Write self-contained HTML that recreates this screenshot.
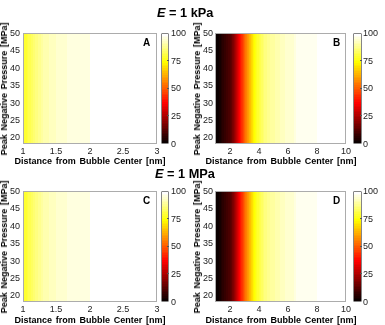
<!DOCTYPE html>
<html><head><meta charset="utf-8"><style>
*{margin:0;padding:0;box-sizing:border-box}
html,body{width:385px;height:325px;overflow:hidden;background:#fff}
body{position:relative;font-family:"Liberation Sans", sans-serif;color:#000}
.box{position:absolute;border:1px solid #acacac}
.cb{position:absolute;border:1px solid #858585;border-radius:1px;background:linear-gradient(to top,rgb(11, 0, 0) 0.000%,rgb(11, 0, 0) 1.562%,rgb(21, 0, 0) 1.562%,rgb(21, 0, 0) 3.125%,rgb(32, 0, 0) 3.125%,rgb(32, 0, 0) 4.688%,rgb(42, 0, 0) 4.688%,rgb(42, 0, 0) 6.250%,rgb(53, 0, 0) 6.250%,rgb(53, 0, 0) 7.812%,rgb(64, 0, 0) 7.812%,rgb(64, 0, 0) 9.375%,rgb(74, 0, 0) 9.375%,rgb(74, 0, 0) 10.938%,rgb(85, 0, 0) 10.938%,rgb(85, 0, 0) 12.500%,rgb(96, 0, 0) 12.500%,rgb(96, 0, 0) 14.062%,rgb(106, 0, 0) 14.062%,rgb(106, 0, 0) 15.625%,rgb(117, 0, 0) 15.625%,rgb(117, 0, 0) 17.188%,rgb(128, 0, 0) 17.188%,rgb(128, 0, 0) 18.750%,rgb(138, 0, 0) 18.750%,rgb(138, 0, 0) 20.312%,rgb(149, 0, 0) 20.312%,rgb(149, 0, 0) 21.875%,rgb(159, 0, 0) 21.875%,rgb(159, 0, 0) 23.438%,rgb(170, 0, 0) 23.438%,rgb(170, 0, 0) 25.000%,rgb(181, 0, 0) 25.000%,rgb(181, 0, 0) 26.562%,rgb(191, 0, 0) 26.562%,rgb(191, 0, 0) 28.125%,rgb(202, 0, 0) 28.125%,rgb(202, 0, 0) 29.688%,rgb(212, 0, 0) 29.688%,rgb(212, 0, 0) 31.250%,rgb(223, 0, 0) 31.250%,rgb(223, 0, 0) 32.812%,rgb(234, 0, 0) 32.812%,rgb(234, 0, 0) 34.375%,rgb(244, 0, 0) 34.375%,rgb(244, 0, 0) 35.938%,rgb(255, 0, 0) 35.938%,rgb(255, 0, 0) 37.500%,rgb(255, 11, 0) 37.500%,rgb(255, 11, 0) 39.062%,rgb(255, 21, 0) 39.062%,rgb(255, 21, 0) 40.625%,rgb(255, 32, 0) 40.625%,rgb(255, 32, 0) 42.188%,rgb(255, 42, 0) 42.188%,rgb(255, 42, 0) 43.750%,rgb(255, 53, 0) 43.750%,rgb(255, 53, 0) 45.312%,rgb(255, 64, 0) 45.312%,rgb(255, 64, 0) 46.875%,rgb(255, 74, 0) 46.875%,rgb(255, 74, 0) 48.438%,rgb(255, 85, 0) 48.438%,rgb(255, 85, 0) 50.000%,rgb(255, 96, 0) 50.000%,rgb(255, 96, 0) 51.562%,rgb(255, 106, 0) 51.562%,rgb(255, 106, 0) 53.125%,rgb(255, 117, 0) 53.125%,rgb(255, 117, 0) 54.688%,rgb(255, 128, 0) 54.688%,rgb(255, 128, 0) 56.250%,rgb(255, 138, 0) 56.250%,rgb(255, 138, 0) 57.812%,rgb(255, 149, 0) 57.812%,rgb(255, 149, 0) 59.375%,rgb(255, 159, 0) 59.375%,rgb(255, 159, 0) 60.938%,rgb(255, 170, 0) 60.938%,rgb(255, 170, 0) 62.500%,rgb(255, 181, 0) 62.500%,rgb(255, 181, 0) 64.062%,rgb(255, 191, 0) 64.062%,rgb(255, 191, 0) 65.625%,rgb(255, 202, 0) 65.625%,rgb(255, 202, 0) 67.188%,rgb(255, 212, 0) 67.188%,rgb(255, 212, 0) 68.750%,rgb(255, 223, 0) 68.750%,rgb(255, 223, 0) 70.312%,rgb(255, 234, 0) 70.312%,rgb(255, 234, 0) 71.875%,rgb(255, 244, 0) 71.875%,rgb(255, 244, 0) 73.438%,rgb(255, 255, 0) 73.438%,rgb(255, 255, 0) 75.000%,rgb(255, 255, 16) 75.000%,rgb(255, 255, 16) 76.562%,rgb(255, 255, 32) 76.562%,rgb(255, 255, 32) 78.125%,rgb(255, 255, 48) 78.125%,rgb(255, 255, 48) 79.688%,rgb(255, 255, 64) 79.688%,rgb(255, 255, 64) 81.250%,rgb(255, 255, 80) 81.250%,rgb(255, 255, 80) 82.812%,rgb(255, 255, 96) 82.812%,rgb(255, 255, 96) 84.375%,rgb(255, 255, 112) 84.375%,rgb(255, 255, 112) 85.938%,rgb(255, 255, 128) 85.938%,rgb(255, 255, 128) 87.500%,rgb(255, 255, 143) 87.500%,rgb(255, 255, 143) 89.062%,rgb(255, 255, 159) 89.062%,rgb(255, 255, 159) 90.625%,rgb(255, 255, 175) 90.625%,rgb(255, 255, 175) 92.188%,rgb(255, 255, 191) 92.188%,rgb(255, 255, 191) 93.750%,rgb(255, 255, 207) 93.750%,rgb(255, 255, 207) 95.312%,rgb(255, 255, 223) 95.312%,rgb(255, 255, 223) 96.875%,rgb(255, 255, 239) 96.875%,rgb(255, 255, 239) 98.438%,rgb(255, 255, 255) 98.438%,rgb(255, 255, 255) 100.000%)}
.ctk{position:absolute;width:2px;height:1px;background:#555}
.tl,.tr,.tc{position:absolute;font-size:9px;line-height:8px;color:#222;white-space:nowrap;will-change:transform}
.tl{transform:translateY(-50%);margin-top:0px}
.tr{transform:translateY(-50%)}
.tc{transform:translate(-50%,-50%)}
.let{position:absolute;font-size:10px;font-weight:bold;line-height:10px;will-change:transform}
.xl,.yl{position:absolute;width:0;height:0;font-weight:bold;font-size:9px;word-spacing:1.2px;white-space:nowrap}
.yl{word-spacing:1.2px}
.xl span,.yl span{position:absolute;left:0;top:0;display:block;line-height:8px;translate:-50% -50%;will-change:transform}
.yl{transform:rotate(-90deg)}
.ttl{position:absolute;font-size:12.75px;font-weight:bold;white-space:nowrap;line-height:12.75px;will-change:transform}
.ttl i{font-style:italic}
#w{position:absolute;left:0;top:0;width:385px;height:325px;background:#fff;filter:blur(0.3px)}
</style></head>
<body><div id="w">
<div class="ttl" style="left:157px;top:7px"><i>E</i> = 1 kPa</div>
<div class="ttl" style="left:155px;top:168px"><i>E</i> = 1 MPa</div>
<div class="box" style="left:23px;top:33px;width:133.5px;height:110.5px;background:linear-gradient(to right,rgb(255, 255, 32) 0%,rgb(255, 255, 32) 0.37%,rgb(255, 255, 48) 0.37%,rgb(255, 255, 48) 2.25%,rgb(255, 255, 64) 2.25%,rgb(255, 255, 64) 3.37%,rgb(255, 255, 80) 3.37%,rgb(255, 255, 80) 5.24%,rgb(255, 255, 96) 5.24%,rgb(255, 255, 96) 6.74%,rgb(255, 255, 112) 6.74%,rgb(255, 255, 112) 8.61%,rgb(255, 255, 128) 8.61%,rgb(255, 255, 128) 10.49%,rgb(255, 255, 143) 10.49%,rgb(255, 255, 143) 12.73%,rgb(255, 255, 159) 12.73%,rgb(255, 255, 159) 14.61%,rgb(255, 255, 175) 14.61%,rgb(255, 255, 175) 18.73%,rgb(255, 255, 191) 18.73%,rgb(255, 255, 191) 23.97%,rgb(255, 255, 207) 23.97%,rgb(255, 255, 207) 32.21%,rgb(255, 255, 223) 32.21%,rgb(255, 255, 223) 49.81%,rgb(255, 255, 255) 49.81%,rgb(255, 255, 255) 100%)"></div>
<div class="cb" style="left:161px;top:33px;width:8px;height:110.5px"></div>
<div class="tl" style="left:171px;top:143.50px">0</div>
<div class="ctk" style="left:167px;top:115.38px"></div>
<div class="tl" style="left:171px;top:115.88px">25</div>
<div class="ctk" style="left:167px;top:87.75px"></div>
<div class="tl" style="left:171px;top:88.25px">50</div>
<div class="ctk" style="left:167px;top:60.12px"></div>
<div class="tl" style="left:171px;top:60.62px">75</div>
<div class="tl" style="left:171px;top:33.00px">100</div>
<div class="tr" style="right:364.5px;top:137.25px">20</div>
<div class="tr" style="right:364.5px;top:119.87px">25</div>
<div class="tr" style="right:364.5px;top:102.50px">30</div>
<div class="tr" style="right:364.5px;top:85.12px">35</div>
<div class="tr" style="right:364.5px;top:67.75px">40</div>
<div class="tr" style="right:364.5px;top:50.37px">45</div>
<div class="tr" style="right:364.5px;top:33.00px">50</div>
<div class="tc" style="left:23.00px;top:151.0px">1</div>
<div class="tc" style="left:56.38px;top:151.0px">1.5</div>
<div class="tc" style="left:89.75px;top:151.0px">2</div>
<div class="tc" style="left:123.12px;top:151.0px">2.5</div>
<div class="tc" style="left:156.50px;top:151.0px">3</div>
<div class="let" style="left:143.3px;top:38.4px">A</div>
<div class="xl" style="left:89.75px;top:161.3px"><span>Distance from Bubble Center [nm]</span></div>
<div class="yl" style="left:4.0px;top:89.25px"><span>Peak Negative Pressure [MPa]</span></div>
<div class="box" style="left:215.3px;top:33px;width:130.39999999999998px;height:110.5px;background:linear-gradient(to right,rgb(11, 0, 0) 0%,rgb(11, 0, 0) 2.68%,rgb(21, 0, 0) 2.68%,rgb(21, 0, 0) 3.83%,rgb(32, 0, 0) 3.83%,rgb(32, 0, 0) 4.98%,rgb(42, 0, 0) 4.98%,rgb(42, 0, 0) 6.51%,rgb(53, 0, 0) 6.51%,rgb(53, 0, 0) 8.05%,rgb(64, 0, 0) 8.05%,rgb(64, 0, 0) 9.20%,rgb(74, 0, 0) 9.20%,rgb(74, 0, 0) 10.73%,rgb(85, 0, 0) 10.73%,rgb(85, 0, 0) 11.49%,rgb(96, 0, 0) 11.49%,rgb(96, 0, 0) 12.26%,rgb(106, 0, 0) 12.26%,rgb(106, 0, 0) 12.64%,rgb(117, 0, 0) 12.64%,rgb(117, 0, 0) 13.41%,rgb(128, 0, 0) 13.41%,rgb(128, 0, 0) 13.79%,rgb(138, 0, 0) 13.79%,rgb(138, 0, 0) 14.18%,rgb(149, 0, 0) 14.18%,rgb(149, 0, 0) 14.56%,rgb(159, 0, 0) 14.56%,rgb(159, 0, 0) 14.94%,rgb(170, 0, 0) 14.94%,rgb(170, 0, 0) 15.33%,rgb(181, 0, 0) 15.33%,rgb(181, 0, 0) 15.71%,rgb(191, 0, 0) 15.71%,rgb(191, 0, 0) 16.09%,rgb(202, 0, 0) 16.09%,rgb(202, 0, 0) 16.48%,rgb(212, 0, 0) 16.48%,rgb(212, 0, 0) 16.86%,rgb(234, 0, 0) 16.86%,rgb(234, 0, 0) 17.62%,rgb(244, 0, 0) 17.62%,rgb(244, 0, 0) 18.01%,rgb(255, 0, 0) 18.01%,rgb(255, 0, 0) 18.39%,rgb(255, 11, 0) 18.39%,rgb(255, 11, 0) 18.77%,rgb(255, 21, 0) 18.77%,rgb(255, 21, 0) 19.16%,rgb(255, 32, 0) 19.16%,rgb(255, 32, 0) 19.54%,rgb(255, 42, 0) 19.54%,rgb(255, 42, 0) 20.31%,rgb(255, 53, 0) 20.31%,rgb(255, 53, 0) 20.69%,rgb(255, 64, 0) 20.69%,rgb(255, 64, 0) 21.07%,rgb(255, 74, 0) 21.07%,rgb(255, 74, 0) 21.46%,rgb(255, 85, 0) 21.46%,rgb(255, 85, 0) 21.84%,rgb(255, 96, 0) 21.84%,rgb(255, 96, 0) 22.22%,rgb(255, 106, 0) 22.22%,rgb(255, 106, 0) 22.61%,rgb(255, 117, 0) 22.61%,rgb(255, 117, 0) 23.37%,rgb(255, 128, 0) 23.37%,rgb(255, 128, 0) 23.75%,rgb(255, 138, 0) 23.75%,rgb(255, 138, 0) 24.14%,rgb(255, 149, 0) 24.14%,rgb(255, 149, 0) 24.52%,rgb(255, 159, 0) 24.52%,rgb(255, 159, 0) 25.29%,rgb(255, 170, 0) 25.29%,rgb(255, 170, 0) 25.67%,rgb(255, 181, 0) 25.67%,rgb(255, 181, 0) 26.05%,rgb(255, 191, 0) 26.05%,rgb(255, 191, 0) 26.82%,rgb(255, 202, 0) 26.82%,rgb(255, 202, 0) 27.20%,rgb(255, 212, 0) 27.20%,rgb(255, 212, 0) 27.59%,rgb(255, 223, 0) 27.59%,rgb(255, 223, 0) 28.35%,rgb(255, 234, 0) 28.35%,rgb(255, 234, 0) 28.74%,rgb(255, 244, 0) 28.74%,rgb(255, 244, 0) 29.12%,rgb(255, 255, 0) 29.12%,rgb(255, 255, 0) 29.89%,rgb(255, 255, 16) 29.89%,rgb(255, 255, 16) 30.65%,rgb(255, 255, 32) 30.65%,rgb(255, 255, 32) 31.80%,rgb(255, 255, 48) 31.80%,rgb(255, 255, 48) 32.95%,rgb(255, 255, 64) 32.95%,rgb(255, 255, 64) 34.10%,rgb(255, 255, 80) 34.10%,rgb(255, 255, 80) 35.25%,rgb(255, 255, 96) 35.25%,rgb(255, 255, 96) 36.40%,rgb(255, 255, 112) 36.40%,rgb(255, 255, 112) 37.55%,rgb(255, 255, 128) 37.55%,rgb(255, 255, 128) 39.46%,rgb(255, 255, 143) 39.46%,rgb(255, 255, 143) 42.15%,rgb(255, 255, 159) 42.15%,rgb(255, 255, 159) 45.98%,rgb(255, 255, 175) 45.98%,rgb(255, 255, 175) 49.81%,rgb(255, 255, 191) 49.81%,rgb(255, 255, 191) 53.64%,rgb(255, 255, 207) 53.64%,rgb(255, 255, 207) 60.54%,rgb(255, 255, 223) 60.54%,rgb(255, 255, 223) 62.07%,rgb(255, 255, 239) 62.07%,rgb(255, 255, 239) 78.16%,rgb(255, 255, 255) 78.16%,rgb(255, 255, 255) 100%)"></div>
<div class="cb" style="left:353px;top:33px;width:8.5px;height:110.5px"></div>
<div class="tl" style="left:362.6px;top:143.50px">0</div>
<div class="ctk" style="left:359.5px;top:115.38px"></div>
<div class="tl" style="left:362.6px;top:115.88px">25</div>
<div class="ctk" style="left:359.5px;top:87.75px"></div>
<div class="tl" style="left:362.6px;top:88.25px">50</div>
<div class="ctk" style="left:359.5px;top:60.12px"></div>
<div class="tl" style="left:362.6px;top:60.62px">75</div>
<div class="tl" style="left:362.6px;top:33.00px">100</div>
<div class="tr" style="right:172.2px;top:137.25px">20</div>
<div class="tr" style="right:172.2px;top:119.87px">25</div>
<div class="tr" style="right:172.2px;top:102.50px">30</div>
<div class="tr" style="right:172.2px;top:85.12px">35</div>
<div class="tr" style="right:172.2px;top:67.75px">40</div>
<div class="tr" style="right:172.2px;top:50.37px">45</div>
<div class="tr" style="right:172.2px;top:33.00px">50</div>
<div class="tc" style="left:229.79px;top:151.0px">2</div>
<div class="tc" style="left:258.77px;top:151.0px">4</div>
<div class="tc" style="left:287.74px;top:151.0px">6</div>
<div class="tc" style="left:316.72px;top:151.0px">8</div>
<div class="tc" style="left:345.70px;top:151.0px">10</div>
<div class="let" style="left:333.3px;top:38.4px">B</div>
<div class="xl" style="left:280.5px;top:161.3px"><span>Distance from Bubble Center [nm]</span></div>
<div class="yl" style="left:197.0px;top:89.25px"><span>Peak Negative Pressure [MPa]</span></div>
<div class="box" style="left:23px;top:191px;width:133.5px;height:110.5px;background:linear-gradient(to right,rgb(255, 255, 32) 0%,rgb(255, 255, 32) 0.37%,rgb(255, 255, 48) 0.37%,rgb(255, 255, 48) 2.25%,rgb(255, 255, 64) 2.25%,rgb(255, 255, 64) 3.37%,rgb(255, 255, 80) 3.37%,rgb(255, 255, 80) 5.24%,rgb(255, 255, 96) 5.24%,rgb(255, 255, 96) 6.74%,rgb(255, 255, 112) 6.74%,rgb(255, 255, 112) 8.61%,rgb(255, 255, 128) 8.61%,rgb(255, 255, 128) 10.49%,rgb(255, 255, 143) 10.49%,rgb(255, 255, 143) 12.73%,rgb(255, 255, 159) 12.73%,rgb(255, 255, 159) 14.61%,rgb(255, 255, 175) 14.61%,rgb(255, 255, 175) 18.73%,rgb(255, 255, 191) 18.73%,rgb(255, 255, 191) 23.97%,rgb(255, 255, 207) 23.97%,rgb(255, 255, 207) 32.21%,rgb(255, 255, 223) 32.21%,rgb(255, 255, 223) 49.81%,rgb(255, 255, 255) 49.81%,rgb(255, 255, 255) 100%)"></div>
<div class="cb" style="left:161px;top:191px;width:8px;height:110.5px"></div>
<div class="tl" style="left:171px;top:301.50px">0</div>
<div class="ctk" style="left:167px;top:273.38px"></div>
<div class="tl" style="left:171px;top:273.88px">25</div>
<div class="ctk" style="left:167px;top:245.75px"></div>
<div class="tl" style="left:171px;top:246.25px">50</div>
<div class="ctk" style="left:167px;top:218.12px"></div>
<div class="tl" style="left:171px;top:218.62px">75</div>
<div class="tl" style="left:171px;top:191.00px">100</div>
<div class="tr" style="right:364.5px;top:295.25px">20</div>
<div class="tr" style="right:364.5px;top:277.87px">25</div>
<div class="tr" style="right:364.5px;top:260.50px">30</div>
<div class="tr" style="right:364.5px;top:243.12px">35</div>
<div class="tr" style="right:364.5px;top:225.75px">40</div>
<div class="tr" style="right:364.5px;top:208.37px">45</div>
<div class="tr" style="right:364.5px;top:191.00px">50</div>
<div class="tc" style="left:23.00px;top:309.0px">1</div>
<div class="tc" style="left:56.38px;top:309.0px">1.5</div>
<div class="tc" style="left:89.75px;top:309.0px">2</div>
<div class="tc" style="left:123.12px;top:309.0px">2.5</div>
<div class="tc" style="left:156.50px;top:309.0px">3</div>
<div class="let" style="left:143.3px;top:196.4px">C</div>
<div class="xl" style="left:89.75px;top:319.5054px"><span>Distance from Bubble Center [nm]</span></div>
<div class="yl" style="left:4.0px;top:247.25px"><span>Peak Negative Pressure [MPa]</span></div>
<div class="box" style="left:215.3px;top:191px;width:130.39999999999998px;height:110.5px;background:linear-gradient(to right,rgb(11, 0, 0) 0%,rgb(11, 0, 0) 2.68%,rgb(21, 0, 0) 2.68%,rgb(21, 0, 0) 3.83%,rgb(32, 0, 0) 3.83%,rgb(32, 0, 0) 4.98%,rgb(42, 0, 0) 4.98%,rgb(42, 0, 0) 6.51%,rgb(53, 0, 0) 6.51%,rgb(53, 0, 0) 8.05%,rgb(64, 0, 0) 8.05%,rgb(64, 0, 0) 9.20%,rgb(74, 0, 0) 9.20%,rgb(74, 0, 0) 10.73%,rgb(85, 0, 0) 10.73%,rgb(85, 0, 0) 11.49%,rgb(96, 0, 0) 11.49%,rgb(96, 0, 0) 12.26%,rgb(106, 0, 0) 12.26%,rgb(106, 0, 0) 12.64%,rgb(117, 0, 0) 12.64%,rgb(117, 0, 0) 13.41%,rgb(128, 0, 0) 13.41%,rgb(128, 0, 0) 13.79%,rgb(138, 0, 0) 13.79%,rgb(138, 0, 0) 14.18%,rgb(149, 0, 0) 14.18%,rgb(149, 0, 0) 14.56%,rgb(159, 0, 0) 14.56%,rgb(159, 0, 0) 14.94%,rgb(170, 0, 0) 14.94%,rgb(170, 0, 0) 15.33%,rgb(181, 0, 0) 15.33%,rgb(181, 0, 0) 15.71%,rgb(191, 0, 0) 15.71%,rgb(191, 0, 0) 16.09%,rgb(202, 0, 0) 16.09%,rgb(202, 0, 0) 16.48%,rgb(212, 0, 0) 16.48%,rgb(212, 0, 0) 16.86%,rgb(234, 0, 0) 16.86%,rgb(234, 0, 0) 17.62%,rgb(244, 0, 0) 17.62%,rgb(244, 0, 0) 18.01%,rgb(255, 0, 0) 18.01%,rgb(255, 0, 0) 18.39%,rgb(255, 11, 0) 18.39%,rgb(255, 11, 0) 18.77%,rgb(255, 21, 0) 18.77%,rgb(255, 21, 0) 19.16%,rgb(255, 32, 0) 19.16%,rgb(255, 32, 0) 19.54%,rgb(255, 42, 0) 19.54%,rgb(255, 42, 0) 20.31%,rgb(255, 53, 0) 20.31%,rgb(255, 53, 0) 20.69%,rgb(255, 64, 0) 20.69%,rgb(255, 64, 0) 21.07%,rgb(255, 74, 0) 21.07%,rgb(255, 74, 0) 21.46%,rgb(255, 85, 0) 21.46%,rgb(255, 85, 0) 21.84%,rgb(255, 96, 0) 21.84%,rgb(255, 96, 0) 22.22%,rgb(255, 106, 0) 22.22%,rgb(255, 106, 0) 22.61%,rgb(255, 117, 0) 22.61%,rgb(255, 117, 0) 23.37%,rgb(255, 128, 0) 23.37%,rgb(255, 128, 0) 23.75%,rgb(255, 138, 0) 23.75%,rgb(255, 138, 0) 24.14%,rgb(255, 149, 0) 24.14%,rgb(255, 149, 0) 24.52%,rgb(255, 159, 0) 24.52%,rgb(255, 159, 0) 25.29%,rgb(255, 170, 0) 25.29%,rgb(255, 170, 0) 25.67%,rgb(255, 181, 0) 25.67%,rgb(255, 181, 0) 26.05%,rgb(255, 191, 0) 26.05%,rgb(255, 191, 0) 26.82%,rgb(255, 202, 0) 26.82%,rgb(255, 202, 0) 27.20%,rgb(255, 212, 0) 27.20%,rgb(255, 212, 0) 27.59%,rgb(255, 223, 0) 27.59%,rgb(255, 223, 0) 28.35%,rgb(255, 234, 0) 28.35%,rgb(255, 234, 0) 28.74%,rgb(255, 244, 0) 28.74%,rgb(255, 244, 0) 29.12%,rgb(255, 255, 0) 29.12%,rgb(255, 255, 0) 29.89%,rgb(255, 255, 16) 29.89%,rgb(255, 255, 16) 30.65%,rgb(255, 255, 32) 30.65%,rgb(255, 255, 32) 31.80%,rgb(255, 255, 48) 31.80%,rgb(255, 255, 48) 32.95%,rgb(255, 255, 64) 32.95%,rgb(255, 255, 64) 34.10%,rgb(255, 255, 80) 34.10%,rgb(255, 255, 80) 35.25%,rgb(255, 255, 96) 35.25%,rgb(255, 255, 96) 36.40%,rgb(255, 255, 112) 36.40%,rgb(255, 255, 112) 37.55%,rgb(255, 255, 128) 37.55%,rgb(255, 255, 128) 39.46%,rgb(255, 255, 143) 39.46%,rgb(255, 255, 143) 42.15%,rgb(255, 255, 159) 42.15%,rgb(255, 255, 159) 45.98%,rgb(255, 255, 175) 45.98%,rgb(255, 255, 175) 49.81%,rgb(255, 255, 191) 49.81%,rgb(255, 255, 191) 53.64%,rgb(255, 255, 207) 53.64%,rgb(255, 255, 207) 60.54%,rgb(255, 255, 223) 60.54%,rgb(255, 255, 223) 62.07%,rgb(255, 255, 239) 62.07%,rgb(255, 255, 239) 78.16%,rgb(255, 255, 255) 78.16%,rgb(255, 255, 255) 100%)"></div>
<div class="cb" style="left:353px;top:191px;width:8.5px;height:110.5px"></div>
<div class="tl" style="left:362.6px;top:301.50px">0</div>
<div class="ctk" style="left:359.5px;top:273.38px"></div>
<div class="tl" style="left:362.6px;top:273.88px">25</div>
<div class="ctk" style="left:359.5px;top:245.75px"></div>
<div class="tl" style="left:362.6px;top:246.25px">50</div>
<div class="ctk" style="left:359.5px;top:218.12px"></div>
<div class="tl" style="left:362.6px;top:218.62px">75</div>
<div class="tl" style="left:362.6px;top:191.00px">100</div>
<div class="tr" style="right:172.2px;top:295.25px">20</div>
<div class="tr" style="right:172.2px;top:277.87px">25</div>
<div class="tr" style="right:172.2px;top:260.50px">30</div>
<div class="tr" style="right:172.2px;top:243.12px">35</div>
<div class="tr" style="right:172.2px;top:225.75px">40</div>
<div class="tr" style="right:172.2px;top:208.37px">45</div>
<div class="tr" style="right:172.2px;top:191.00px">50</div>
<div class="tc" style="left:229.79px;top:309.0px">2</div>
<div class="tc" style="left:258.77px;top:309.0px">4</div>
<div class="tc" style="left:287.74px;top:309.0px">6</div>
<div class="tc" style="left:316.72px;top:309.0px">8</div>
<div class="tc" style="left:345.70px;top:309.0px">10</div>
<div class="let" style="left:333.3px;top:196.4px">D</div>
<div class="xl" style="left:280.5px;top:319.5054px"><span>Distance from Bubble Center [nm]</span></div>
<div class="yl" style="left:197.0px;top:247.25px"><span>Peak Negative Pressure [MPa]</span></div>
</div></body></html>
